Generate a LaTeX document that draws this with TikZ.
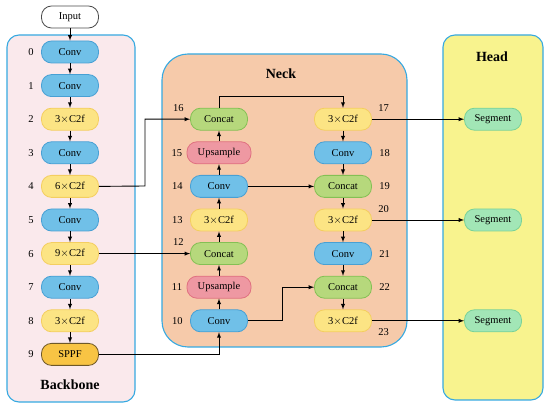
\documentclass[tikz,border=0pt]{standalone}
\usepackage{fontspec}
\setmainfont{Liberation Serif}
\usepackage{xcolor}
\usetikzlibrary{arrows, positioning}
\definecolor{convfill}{RGB}{112,192,232}
\definecolor{convline}{RGB}{72,160,212}
\definecolor{cfill}{RGB}{252,228,132}
\definecolor{cline}{RGB}{244,206,96}
\definecolor{sppffill}{RGB}{248,196,68}
\definecolor{sppfline}{RGB}{110,88,40}
\definecolor{catfill}{RGB}{182,216,124}
\definecolor{catline}{RGB}{132,192,84}
\definecolor{upfill}{RGB}{238,152,162}
\definecolor{upline}{RGB}{224,112,128}
\definecolor{segfill}{RGB}{162,230,182}
\definecolor{segline}{RGB}{122,210,152}
\definecolor{bbfill}{RGB}{250,233,236}
\definecolor{neckfill}{RGB}{246,202,170}
\definecolor{headfill}{RGB}{248,243,142}
\definecolor{frame}{RGB}{54,169,225}

\begin{document}
\begin{tikzpicture}[x=1pt,y=1pt,node distance=33.6pt,>=latex]
 \tikzstyle{blk}=[rectangle,rounded corners=10pt,minimum width=57pt,
   minimum height=22pt,inner sep=0pt,text centered,line width=0.8pt,
   font=\fontsize{10.5}{12}\selectfont]
 \tikzstyle{convbox}=[blk,draw=convline,fill=convfill]
 \tikzstyle{cbox}=[blk,draw=cline,fill=cfill]
 \tikzstyle{sppfbox}=[blk,draw=sppfline,fill=sppffill]
 \tikzstyle{catbox}=[blk,draw=catline,fill=catfill]
 \tikzstyle{upbox}=[blk,draw=upline,fill=upfill,minimum width=64pt]
 \tikzstyle{segbox}=[blk,draw=segline,fill=segfill]
 \tikzstyle{idx}=[font=\fontsize{10.5}{12}\selectfont]
 \tikzstyle{part}=[draw=frame,line width=1.1pt]
 \tikzstyle{title}=[font=\fontsize{14}{16}\selectfont\bfseries]
 \tikzstyle{every label}=[idx]
 \useasboundingbox (0,0) rectangle (550,-409);
 % containers
 \draw[part,fill=bbfill,rounded corners=12pt] (7,-35) rectangle (135,-402);
 \draw[part,fill=neckfill,rounded corners=26pt] (162,-54) rectangle (407,-347);
 \draw[part,fill=headfill,rounded corners=12pt] (443,-35) rectangle (543,-400);
 \node (tb) [title] at (70,-385) {Backbone};
 \node (tn) [title] at (281,-74) {Neck};
 \node (th) [title] at (492,-57) {Head};
 % backbone
 \node (in) [blk,draw=black!70,fill=white] at (70,-17) {Input};
 \node (b0) [convbox,label={[label distance=4pt]left:0}] at (70,-52) {Conv};
 \node (b1) [convbox,below of=b0,label={[label distance=4pt]left:1}] {Conv};
 \node (b2) [cbox,below of=b1,label={[label distance=4pt]left:2}] {3\(\times\)C2f};
 \node (b3) [convbox,below of=b2,label={[label distance=4pt]left:3}] {Conv};
 \node (b4) [cbox,below of=b3,label={[label distance=4pt]left:4}] {6\(\times\)C2f};
 \node (b5) [convbox,below of=b4,label={[label distance=4pt]left:5}] {Conv};
 \node (b6) [cbox,below of=b5,label={[label distance=4pt]left:6}] {9\(\times\)C2f};
 \node (b7) [convbox,below of=b6,label={[label distance=4pt]left:7}] {Conv};
 \node (b8) [cbox,below of=b7,label={[label distance=4pt]left:8}] {3\(\times\)C2f};
 \node (b9) [sppfbox,below of=b8,label={[label distance=4pt]left:9}] {SPPF};
 % neck, up path
 \node (n10) [convbox,right of=b8,xshift=115.4pt,
   label={[label distance=4pt]left:10}] {Conv};
 \node (n11) [upbox,above of=n10,label={[label distance=1pt]left:11}] {Upsample};
 \node (n12) [catbox,above of=n11,
   label={[anchor=east,xshift=-3pt]north west:12}] {Concat};
 \node (n13) [cbox,above of=n12,label={[label distance=4pt]left:13}] {3\(\times\)C2f};
 \node (n14) [convbox,above of=n13,label={[label distance=4pt]left:14}] {Conv};
 \node (n15) [upbox,above of=n14,label={[label distance=1pt]left:15}] {Upsample};
 \node (n16) [catbox,above of=n15,
   label={[anchor=east,xshift=-3pt]north west:16}] {Concat};
 % neck, down path
 \node (n17) [cbox,right of=n16,xshift=90.4pt,
   label={[anchor=west,xshift=3pt]north east:17}] {3\(\times\)C2f};
 \node (n18) [convbox,below of=n17,label={[label distance=4pt]right:18}] {Conv};
 \node (n19) [catbox,below of=n18,label={[label distance=4pt]right:19}] {Concat};
 \node (n20) [cbox,below of=n19,
   label={[anchor=west,xshift=3pt]north east:20}] {3\(\times\)C2f};
 \node (n21) [convbox,below of=n20,label={[label distance=4pt]right:21}] {Conv};
 \node (n22) [catbox,below of=n21,label={[label distance=4pt]right:22}] {Concat};
 \node (n23) [cbox,below of=n22,
   label={[anchor=west,xshift=3pt]south east:23}] {3\(\times\)C2f};
 % head
 \node (s1) [segbox,right of=n17,xshift=116.4pt] {Segment};
 \node (s2) [segbox,right of=n20,xshift=116.4pt] {Segment};
 \node (s3) [segbox,right of=n23,xshift=116.4pt] {Segment};
 % links
 \foreach \a/\b in {in/b0,b0/b1,b1/b2,b2/b3,b3/b4,b4/b5,b5/b6,b6/b7,b7/b8,b8/b9,
   n10/n11,n11/n12,n12/n13,n13/n14,n14/n15,n15/n16,
   n17/n18,n18/n19,n19/n20,n20/n21,n21/n22,n22/n23,
   n14/n19,b6/n12,n17/s1,n20/s2,n23/s3}
   \draw[->,line width=0.9pt] (\a) -- (\b);
 \coordinate (j4) at (145,-186);
 \draw[->,line width=0.9pt] (b4.east) -- (j4) |- (n16.west);
 \draw[->,line width=0.9pt] (b9.east) -| (n10.south);
 \draw[->,line width=0.9pt] (n16.north) -- ++(0,11) -| (n17.north);
 \draw[->,line width=0.9pt] (n10.east) -- ++(35,0) |- (n22.west);
\end{tikzpicture}
\end{document}
